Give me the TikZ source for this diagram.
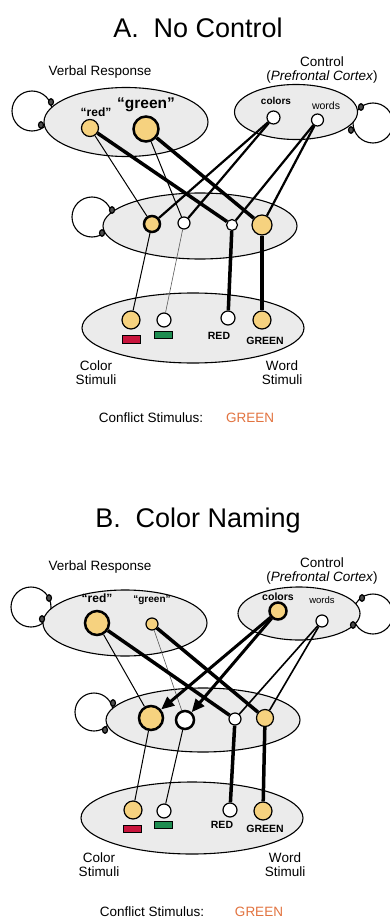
\documentclass[tikz,border=0pt]{standalone}
\usepackage{fontspec}
\setmainfont{Liberation Sans}
\usetikzlibrary{shapes.geometric,arrows.meta}
\definecolor{unitfill}{HTML}{F6D27F}
\definecolor{poolfill}{HTML}{EBEBEB}
\definecolor{stimred}{HTML}{C8143C}
\definecolor{stimgreen}{HTML}{1E8C50}
\definecolor{conflictc}{HTML}{E2733F}
\tikzset{
  pool/.style={ellipse, draw, fill=poolfill, line width=1.1pt, inner sep=0pt},
  unit/.style={circle, draw, fill=white, inner sep=0pt, line width=1.2pt},
  lit/.style={fill=unitfill},
  heavyrim/.style={line width=2.5pt},
  loopc/.style={line width=1.1pt},
  term/.style={ellipse, draw, fill=black!70, line width=1.2pt, inner sep=0pt, minimum width=5pt, minimum height=6.5pt},
  thinlink/.style={line width=1pt},
  faint/.style={line width=0.6pt, draw=black!65},
  medlink/.style={line width=2.2pt},
  midlink/.style={line width=1.6pt},
  strong/.style={line width=3.5pt},
  arrowlink/.style={line width=3pt, -{Triangle[length=13pt,width=11pt]}},
  titletxt/.style={font=\fontsize{27}{32}\selectfont, inner sep=0pt},
  lbl/.style={font=\fontsize{13.5}{14.5}\selectfont, inner sep=0pt, align=center},
  stimtxt/.style={font=\fontsize{13.5}{14}\selectfont, inner sep=0pt, align=center},
  bw/.style={font=\bfseries\fontsize{#1}{#1}\selectfont, inner sep=0pt},
  rw/.style={font=\fontsize{#1}{#1}\selectfont, inner sep=0pt},
  swatch/.style={draw, line width=0.7pt, minimum width=18pt, minimum height=7.5pt, inner sep=0pt},
}
\begin{document}
\begin{tikzpicture}[x=1pt,y=-1pt]
\useasboundingbox[fill=white] (0,0) rectangle (390,920);

%%%%%%%%%%%%%%%% PANEL A %%%%%%%%%%%%%%%%
\node[titletxt] (titleA) at (198,28) {A.\hspace{0.55em}No Control};
\node[lbl] (vrA) at (100,72) {Verbal Response};
\node[lbl] (ctA) at (322,62) {Control};
\node[lbl] (pfA) at (322,77) {(\textit{Prefrontal Cortex})};

% loops (under the pools)
\draw[loopc] (32,111) circle (20pt);
\draw[loopc] (373,123) circle (20pt);
\draw[loopc] (92,217) circle (20pt);

% pools
\node[pool, minimum width=164pt, minimum height=69pt] (verbA) at (126,122) {};
\node[pool, minimum width=123pt, minimum height=55pt] (ctlA) at (296,112) {};
\node[pool, minimum width=194pt, minimum height=66pt] (hidA) at (200,226) {};
\node[pool, minimum width=222pt, minimum height=70pt] (stimA) at (193,328) {};

% loop terminals
\node[term] (tA1) at (51,102) {};
\node[term] (tA2) at (41,125) {};
\node[term] (tA3) at (361,107) {};
\node[term] (tA4) at (351,130) {};
\node[term] (tA5) at (112,210) {};
\node[term] (tA6) at (102,233) {};

% verbal response units
\node[unit, lit, minimum size=17pt] (redA) at (90,128) {};
\node[unit, lit, heavyrim, minimum size=25pt] (greenA) at (146,129) {};
\node[bw=12] (redAl) at (96,112) {“red”};
\node[bw=15.5] (greenAl) at (146,105) {“green”};

% control units
\node[unit, minimum size=13pt] (colA) at (273.5,117.5) {};
\node[unit, minimum size=12pt] (wrdA) at (317.5,120) {};
\node[bw=10] (colAl) at (276,101) {colors};
\node[rw=10.5] (wrdAl) at (326,106) {words};

% hidden units
\node[unit, lit, heavyrim, minimum size=16pt] (h1A) at (152,224) {};
\node[unit, minimum size=12pt] (h2A) at (184,223) {};
\node[unit, minimum size=11pt] (h3A) at (232,225) {};
\node[unit, lit, minimum size=20pt] (h4A) at (262,225) {};

% stimulus units
\node[unit, lit, minimum size=18pt] (s1A) at (131,320) {};
\node[unit, minimum size=14pt] (s2A) at (164,320) {};
\node[unit, minimum size=14pt] (s3A) at (228,318) {};
\node[unit, lit, minimum size=18pt] (s4A) at (262,320) {};
\node[swatch, fill=stimred] (rrA) at (131,339.5) {};
\node[swatch, fill=stimgreen] (grA) at (163,335) {};
\node[bw=10.5] (REDA) at (219,336) {RED};
\node[bw=10.5] (GREENA) at (265,340.5) {GREEN};
\node[stimtxt] (csA) at (96,373) {Color\\Stimuli};
\node[stimtxt] (wsA) at (282,373) {Word\\Stimuli};
\node[lbl] (cfA) at (151,418) {Conflict Stimulus:};
\node[lbl, text=conflictc] (cgA) at (250,418) {GREEN};

% connections
\draw[thinlink] (h1A) -- (redA);
\draw[thinlink] (h2A) -- (greenA);
\draw[strong] (h3A) -- (redA);
\draw[strong] (h4A) -- (greenA);
\draw[medlink] (colA) -- (h1A);
\draw[medlink] (colA) -- (h2A);
\draw[medlink] (wrdA) -- (h3A);
\draw[medlink] (wrdA) -- (h4A);
\draw[thinlink] (s1A) -- (h1A);
\draw[faint] (s2A) -- (h2A);
\draw[strong] (s3A) -- (h3A);
\draw[strong] (s4A) -- (h4A);

%%%%%%%%%%%%%%%% PANEL B %%%%%%%%%%%%%%%%
\node[titletxt] (titleB) at (198,521) {B.\hspace{0.55em}Color Naming};
\node[lbl] (vrB) at (100,567) {Verbal Response};
\node[lbl] (ctB) at (322,563) {Control};
\node[lbl] (pfB) at (322,578) {(\textit{Prefrontal Cortex})};

\draw[loopc] (31,607) circle (20pt);
\draw[loopc] (373,614) circle (20pt);
\draw[loopc] (94,712) circle (19pt);

\node[pool, minimum width=164pt, minimum height=66pt] (verbB) at (125,623) {};
\node[pool, minimum width=122pt, minimum height=53pt] (ctlB) at (299,613.5) {};
\node[pool, minimum width=194pt, minimum height=64pt] (hidB) at (203,720) {};
\node[pool, minimum width=222pt, minimum height=72pt] (stimB) at (192,818) {};

\node[term] (tB1) at (49,598) {};
\node[term] (tB2) at (42,619) {};
\node[term] (tB3) at (362,598) {};
\node[term] (tB4) at (353,625) {};
\node[term] (tB5) at (113,703) {};
\node[term] (tB6) at (105,730) {};

\node[unit, lit, heavyrim, minimum size=24pt] (redB) at (97,623) {};
\node[unit, lit, minimum size=12pt] (greenB) at (152,624) {};
\node[bw=12] (redBl) at (97,598) {“red”};
\node[bw=10] (greenBl) at (152,600) {“green”};

\node[unit, lit, heavyrim, minimum size=17pt] (colB) at (278,611) {};
\node[unit, minimum size=12pt] (wrdB) at (322,621) {};
\node[bw=10.5] (colBl) at (278,597) {colors};
\node[rw=9.5] (wrdBl) at (322,600) {words};

\node[unit, lit, heavyrim, minimum size=24pt] (h1B) at (151,718) {};
\node[unit, heavyrim, minimum size=18pt] (h2B) at (185,720) {};
\node[unit, minimum size=12pt] (h3B) at (235,719) {};
\node[unit, lit, minimum size=17pt] (h4B) at (265,718) {};

\node[unit, lit, minimum size=18pt] (s1B) at (133,810) {};
\node[unit, minimum size=14pt] (s2B) at (164,811) {};
\node[unit, minimum size=14pt] (s3B) at (230,810) {};
\node[unit, lit, minimum size=18pt] (s4B) at (263,811) {};
\node[swatch, fill=stimred] (rrB) at (132.5,829) {};
\node[swatch, fill=stimgreen] (grB) at (163.5,825) {};
\node[bw=10.5] (REDB) at (222,825) {RED};
\node[bw=10.5] (GREENB) at (265,829) {GREEN};
\node[stimtxt] (csB) at (99,865) {Color\\Stimuli};
\node[stimtxt] (wsB) at (285,865) {Word\\Stimuli};
\node[lbl] (cfB) at (152,912) {Conflict Stimulus:};
\node[lbl, text=conflictc] (cgB) at (259,912) {GREEN};

\draw[thinlink] (h1B) -- (redB);
\draw[faint] (h2B) -- (greenB);
\draw[strong] (h3B) -- (redB);
\draw[strong] (h4B) -- (greenB);
\draw[arrowlink] (colB) -- (h1B);
\draw[arrowlink] (colB) -- (h2B);
\draw[midlink] (wrdB) -- (h3B);
\draw[midlink] (wrdB) -- (h4B);
\draw[thinlink] (s1B) -- (h1B);
\draw[thinlink] (s2B) -- (h2B);
\draw[strong] (s3B) -- (h3B);
\draw[strong] (s4B) -- (h4B);
\end{tikzpicture}
\end{document}
